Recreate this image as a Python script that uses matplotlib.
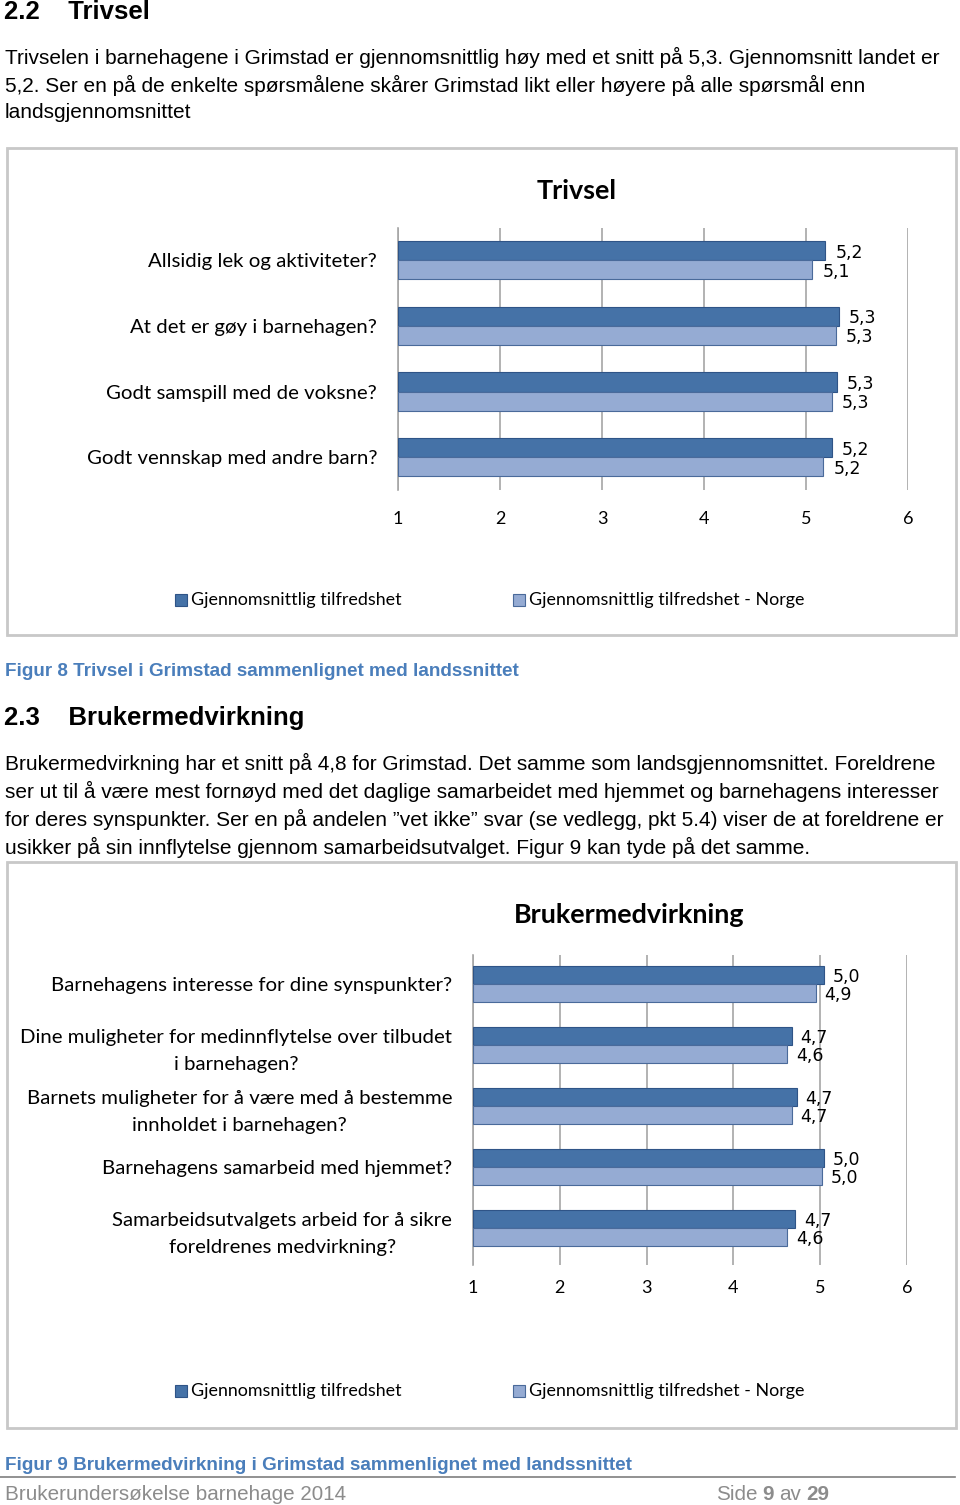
import numpy as np
import matplotlib
matplotlib.use('Agg')
import matplotlib.pyplot as plt
from matplotlib.patches import Rectangle
from matplotlib.lines import Line2D

# --- data -----------------------------------------------------------------
triv_cats = ['Allsidig lek og aktiviteter?', 'At det er gøy i barnehagen?',
             'Godt samspill med de voksne?', 'Godt vennskap med andre barn?']
triv_grim = [5.19, 5.32, 5.30, 5.25]
triv_norge = [5.06, 5.29, 5.25, 5.17]
triv_grim_lbl = ['5,2', '5,3', '5,3', '5,2']
triv_norge_lbl = ['5,1', '5,3', '5,3', '5,2']

bruk_cats = ['Barnehagens interesse for dine synspunkter?',
             'Dine muligheter for medinnflytelse over tilbudet\ni barnehagen?',
             'Barnets muligheter for å være med å bestemme\ninnholdet i barnehagen?',
             'Barnehagens samarbeid med hjemmet?',
             'Samarbeidsutvalgets arbeid for å sikre\nforeldrenes medvirkning?']
bruk_grim = [5.04, 4.675, 4.73, 5.04, 4.71]
bruk_norge = [4.95, 4.62, 4.67, 5.02, 4.62]
bruk_grim_lbl = ['5,0', '4,7', '4,7', '5,0', '4,7']
bruk_norge_lbl = ['4,9', '4,6', '4,7', '5,0', '4,6']

xticks = [1, 2, 3, 4, 5, 6]
series_names = ['Gjennomsnittlig tilfredshet', 'Gjennomsnittlig tilfredshet - Norge']

W, H = 960, 1505
DARK, DARK_EDGE = '#4572a7', '#2f5487'
LIGHT, LIGHT_EDGE = '#95abd3', '#4a6a9a'
GRID = '#a6a6a6'
CAPBLUE = '#4a7ebb'

fig = plt.figure(figsize=(W / 100, H / 100), dpi=100)
fig.patch.set_facecolor('white')

def fx(x):
    return x / W

def fy(y):
    return 1 - y / H

def ftext(x, y, s, **kw):
    kw.setdefault('va', 'center')
    return fig.text(fx(x), fy(y), s, **kw)

BODY = dict(family=['Liberation Sans', 'DejaVu Sans'], fontsize=15, color='black')
HEAD = dict(family=['Liberation Sans', 'DejaVu Sans'], fontsize=18.5, weight='bold', color='black')
NARROW = ['Liberation Sans Narrow', 'Liberation Sans', 'DejaVu Sans']
CHART = ['Lato', 'DejaVu Sans']

# --- page text ------------------------------------------------------------
ftext(4, 12, '2.2    Trivsel', **HEAD)
ftext(5, 57, 'Trivselen i barnehagene i Grimstad er gjennomsnittlig høy med et snitt på 5,3. Gjennomsnitt landet er', **BODY)
ftext(5, 85, '5,2. Ser en på de enkelte spørsmålene skårer Grimstad likt eller høyere på alle spørsmål enn', **BODY)
ftext(5, 112, 'landsgjennomsnittet', **BODY)

ftext(5, 672, 'Figur 8 Trivsel i Grimstad sammenlignet med landssnittet', family=NARROW,
      fontsize=13.6, weight='bold', color=CAPBLUE)

ftext(4, 718, '2.3    Brukermedvirkning', **HEAD)
para2 = ['Brukermedvirkning har et snitt på 4,8 for Grimstad. Det samme som landsgjennomsnittet. Foreldrene',
         'ser ut til å være mest fornøyd med det daglige samarbeidet med hjemmet og barnehagens interesser',
         'for deres synspunkter. Ser en på andelen ”vet ikke” svar (se vedlegg, pkt 5.4) viser de at foreldrene er',
         'usikker på sin innflytelse gjennom samarbeidsutvalget. Figur 9 kan tyde på det samme.']
for i, line in enumerate(para2):
    ftext(5, 763 + i * 28, line, **BODY)

ftext(5, 1466, 'Figur 9 Brukermedvirkning i Grimstad sammenlignet med landssnittet', family=NARROW,
      fontsize=13.6, weight='bold', color=CAPBLUE)

fig.add_artist(Line2D([0, fx(955)], [fy(1477), fy(1477)], color='#7f7f7f', lw=1.2))
FOOT = dict(family=NARROW, fontsize=14.9, color='#8c8c8c')
ftext(5, 1495, 'Brukerundersøkelse barnehage 2014', **FOOT)

# footer "Side 9 av 29" with bold numbers, placed piece by piece
renderer = fig.canvas.get_renderer()
xcur = 716
for piece, bold in [('Side', False), ('9', True), ('av', False), ('29', True)]:
    t = ftext(xcur, 1495, piece, weight='bold' if bold else 'normal', **FOOT)
    xcur += t.get_window_extent(renderer).width + 5


def frame(x0, y0, x1, y1):
    fig.add_artist(Rectangle((fx(x0), fy(y1)), fx(x1) - fx(x0), fy(y0) - fy(y1),
                             transform=fig.transFigure, facecolor='none',
                             edgecolor='#c8c8c8', lw=2))


def legend(y):
    for (x, col, ec), name in zip([(175, DARK, DARK_EDGE), (513, LIGHT, LIGHT_EDGE)], series_names):
        fig.add_artist(Rectangle((fx(x), fy(y + 6)), 12 / W, 12 / H, transform=fig.transFigure,
                                 facecolor=col, edgecolor=ec, lw=0.8))
        ftext(x + 16, y, name, family=CHART, fontsize=12.9, color='black')


def bar_chart(rect, cats, grim, norge, glbl, nlbl, title, title_xy, tick_pad, ylim, h):
    x0, y0, x1, y1 = rect
    ax = fig.add_axes([fx(x0), fy(y1), fx(x1) - fx(x0), fy(y0) - fy(y1)])
    n = len(cats)
    pos = np.arange(n)
    ax.barh(pos - h / 2, [g - 1 for g in grim], height=h, left=1, color=DARK,
            edgecolor=DARK_EDGE, lw=0.8, zorder=3)
    ax.barh(pos + h / 2, [v - 1 for v in norge], height=h, left=1, color=LIGHT,
            edgecolor=LIGHT_EDGE, lw=0.8, zorder=3)
    for i in range(n):
        ax.text(grim[i] + 0.1, pos[i] - h / 2 + 0.03, glbl[i], va='center', ha='left',
                family=['DejaVu Sans'], fontsize=12.5)
        ax.text(norge[i] + 0.1, pos[i] + h / 2 + 0.03, nlbl[i], va='center', ha='left',
                family=['DejaVu Sans'], fontsize=12.5)
    ax.set_xlim(1, 6)
    ax.set_ylim(*ylim)
    ax.set_xticks(xticks)
    ax.set_xticklabels([str(t) for t in xticks], family=CHART, fontsize=13)
    ax.set_yticks(pos)
    ax.set_yticklabels(cats, family=CHART, fontsize=14.7)
    for t in ax.get_yticklabels():
        t.set_multialignment('center')
        t.set_linespacing(1.65)
    ax.tick_params(axis='both', length=0)
    ax.tick_params(axis='y', pad=15)
    ax.tick_params(axis='x', pad=tick_pad)
    ax.grid(axis='x', color=GRID, lw=1.2, zorder=0)
    for s in ['top', 'right', 'bottom']:
        ax.spines[s].set_visible(False)
    ax.spines['left'].set_color(GRID)
    ax.spines['left'].set_linewidth(1.2)
    ftext(title_xy[0], title_xy[1], title, ha='center', family=CHART, fontsize=19.4,
          weight='bold', color='black')
    return ax


frame(7, 148, 956, 635)
bar_chart((398, 228, 908, 490), triv_cats, triv_grim, triv_norge, triv_grim_lbl,
          triv_norge_lbl, 'Trivsel', (577, 191), 15, (3.5, -0.49), 0.29)
legend(600)

frame(7, 862, 956, 1428)
bar_chart((473, 955, 907, 1265), bruk_cats, bruk_grim, bruk_norge, bruk_grim_lbl,
          bruk_norge_lbl, 'Brukermedvirkning', (629, 915), 11, (4.607, -0.475), 0.295)
legend(1391)

fig.savefig('out.png', dpi=100, facecolor='white')
